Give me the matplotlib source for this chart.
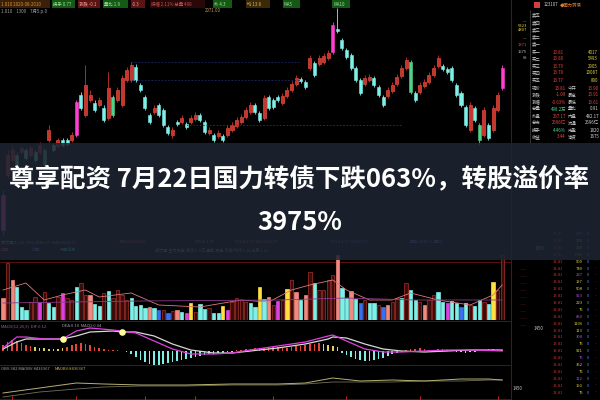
import matplotlib
matplotlib.use("Agg")
import matplotlib.pyplot as plt
from matplotlib.patches import Rectangle

plt.rcParams["font.family"] = ["Noto Sans CJK SC", "DejaVu Sans"]

# --- candle data (chart units) ---
opens = [-80, -25, -10, -5, -2, 0, -5, -2, -2, 0,
         10, 5, 4, 10, 10, 10, 15, 55, 35, 50,
         47, 45, 42, 32, 53, 50, 45, 70, 70, 83,
         65, 53, 35, 38, 45, 40, 23, 15, 28, 28,
         26, 28, 31, 35, 28, 17, 15, 14, 14, 15,
         20, 24, 28, 33, 38, 45, 37, 32, 53, 50,
         53, 47, 54, 60, 66, 71, 68, 82, 87, 86,
         88, 92, 98, 121, 110, 100, 95, 82, 70, 66,
         70, 72, 63, 53, 54, 59, 66, 74, 82, 88,
         57, 58, 64, 68, 75, 84, 84, 81, 82, 65,
         57, 43, 20, 42, 25, 15, 25, 20, 40, 62]
closes = [-45, -5, 0, -15, 2, -8, 2, -10, 5, -15,
          20, 0, 10, 5, 6, 15, 48, 42, 65, 55,
          40, 50, 30, 62, 35, 60, 72, 80, 85, 70,
          60, 42, 28, 42, 35, 25, 17, 20, 26, 32,
          23, 32, 35, 30, 18, 20, 10, 17, 10, 22,
          25, 30, 33, 40, 45, 38, 30, 52, 42, 43,
          50, 54, 60, 66, 72, 69, 63, 92, 75, 92,
          94, 97, 125, 119, 102, 93, 82, 70, 57, 72,
          73, 65, 55, 45, 60, 65, 73, 82, 90, 58,
          50, 65, 68, 75, 82, 92, 81, 78, 70, 55,
          45, 25, 45, 30, 10, 40, 12, 42, 55, 82]
highs = [-40, 0, 4, -2, 5, 2, 5, 0, 8, 2,
         25, 7, 12, 12, 12, 18, 50, 58, 85, 60,
         50, 53, 45, 78, 55, 63, 75, 83, 88, 86,
         67, 55, 37, 45, 47, 42, 25, 23, 30, 35,
         28, 35, 38, 37, 30, 23, 17, 20, 16, 25,
         28, 33, 36, 43, 48, 47, 39, 55, 55, 52,
         55, 57, 63, 69, 75, 73, 70, 95, 89, 95,
         97, 100, 128, 142, 112, 102, 97, 84, 72, 75,
         76, 74, 65, 55, 63, 68, 76, 85, 93, 90,
         59, 68, 71, 78, 85, 95, 86, 83, 84, 67,
         59, 45, 48, 44, 27, 43, 27, 45, 58, 85]
lows = [-85, -28, -12, -18, -4, -10, -7, -12, -4, -17,
        8, -2, 2, 3, 4, 8, 13, 40, 33, 48,
        38, 43, 28, 30, 33, 48, 43, 68, 68, 68,
        58, 40, 26, 36, 33, 23, 15, 12, 24, 26,
        21, 26, 29, 28, 16, 15, 8, 12, 8, 13,
        18, 22, 26, 31, 36, 36, 28, 30, 40, 41,
        48, 45, 52, 58, 64, 67, 61, 80, 73, 84,
        86, 90, 96, 117, 100, 91, 80, 68, 55, 64,
        68, 63, 53, 43, 52, 57, 64, 72, 80, 56,
        48, 56, 62, 66, 73, 82, 79, 76, 68, 53,
        43, 23, 18, 28, 5, 13, 10, 18, 38, 60]
# u = up (red), d = down (cyan), m = big up (magenta), g = big down (green)
kinds = ("muudududug" "ududdumduu" "duduguuuud" "dddudddudu" "duuddududu"
         "uuuuuddudd" "duuuuddudu" "uumddddddu" "uddduuuuug" "duuuuudddd" "ddudguduum")

# --- volume ---
volumes = [22, 57, 40, 33, 13, 10, 18, 23, 18, 28,
           17, 13, 23, 27, 22, 20, 33, 37, 25, 25,
           16, 14, 27, 29, 22, 30, 25, 20, 22, 14,
           15, 12, 13, 12, 10, 10, 7, 9, 10, 8,
           7, 17, 8, 16, 11, 12, 7, 7, 14, 10,
           18, 22, 20, 18, 17, 13, 33, 21, 23, 15,
           19, 20, 31, 40, 28, 20, 25, 48, 37, 30,
           30, 40, 45, 65, 32, 22, 29, 21, 17, 20,
           17, 17, 15, 13, 15, 18, 22, 22, 37, 30,
           20, 18, 15, 20, 25, 28, 18, 17, 19, 17,
           13, 17, 15, 14, 20, 18, 16, 38, 30, 65]
vol_kinds = ("srscccrrmr" "ccrmrrcrrs" "ccrcrrrrcc" "ccscbrbrsc" "myrccrccym"
             "rrrrccycsr" "mryrscsrcr" "rrrsccscbr" "ccrbsrrcrc" "crsrrccmcc" "bcrccrcyrr")
vol_ma_idx = [0, 5, 9, 13, 18, 21, 28, 34, 43, 52, 58, 63, 67, 72, 75, 80, 85, 89, 95, 102, 107, 109]
vol_ma = [30, 37, 20, 25, 30, 23, 27, 15, 13, 20, 18, 30, 35, 40, 30, 20, 20, 27, 20, 15, 25, 35]
vol_ma2_idx = [0, 30, 60, 75, 90, 109]
vol_ma2 = [17, 19, 20, 22, 20, 20]

# --- MACD ---
macd_idx = [0, 3, 5, 9, 13, 16, 19, 24, 26, 29, 33, 37, 41, 46, 50, 54, 60, 66, 71, 72, 75, 79, 83, 87, 92, 97, 102, 109]
dif = [3, 14, 14, 12, 12, 20, 23, 21, 20, 18, 10, 2, -3, -3, -2, 1, 5, 9, 15, 16, 10, 2, -1, -1, 0, 1, 1, 0]
dea = [2, 9, 12, 12, 12, 15, 19, 20, 19, 19, 15, 7, 1, -2, -2, 0, 3, 7, 12, 14, 13, 7, 2, 0, -1, 0, 1, 1]
cross_idx = [13, 26]
cross_val = [12, 19]
hist = [6, 9, 11, 10, 8, 6, 5,
        4, 3, 3, 2, 2, 2, 3,
        4, 6, 7, 8, 7, 6, 4, 3,
        2, 1, 1, 1, 0.5, -1, -3,
        -6, -9, -11, -13, -14, -14, -13, -12, -11, -10, -9, -8, -7, -6, -5,
        -4, -3, -3, -2, -2, -1, -1,
        1, 1, 2, 2, 3, 3, 3, 4, 4, 4, 3, 3, 4, 5,
        5, 6, 7, 7, 8, 7, 6, 5, 4,
        -2, -4, -6, -8, -9, -10, -10, -9, -8, -7, -5, -3, -2,
        -1, 1, 2, 2, 3, 2, 1, 1, 2, 2, 1, 1, -1, -1, -2, -1, -1, 1, 1, 2, 2, 1, 1]

# --- bottom indicator ---
obv_idx = [0, 8, 16, 22, 30, 40, 50, 60, 66, 72, 78, 85, 92, 100, 106, 109]
obv_a = [7, 12, 17, 16, 15, 15, 16, 16, 17, 22, 19, 20, 19, 21, 21, 20]
obv_b = [3, 8, 11, 13, 14, 14, 15, 15, 16, 18, 18, 18, 19, 19, 20, 20]
date_ticks = [2, 16, 31, 42, 59, 75, 91, 108]

# --- right panel text ---
book_labels = ["卖五", "卖四", "卖三", "卖二", "卖一", "买一", "买二", "买三", "买四", "买五"]
book_prices = ["", "", "", "", "", "13.81", "13.80", "13.79", "13.78", "13.77"]
book_vols = ["", "", "", "", "", "4017", "5493", "2905", "10087", "890"]
stat_labels_l = ["现价", "涨跌", "涨幅", "总量", "外盘", "总市", "换手", "收益"]
stat_vals_l = ["13.81", "-1.09", "-0.63%", "498.2万", "267.17", "2596亿", "4.46%", "3.44"]
stat_labels_r = ["今开", "最高", "最低", "量比", "内盘", "流通", "市盈", "净资"]
stat_vals_r = ["13.90", "13.91", "13.61", "0.91", "482.17", "2596亿", "1820", "1675"]
tick_vols = [375, 230, 158, 1050, 900, 740, 237, 197, 508, 923, 223, 75,
             850, 1106, 113, 308, 75, 921, 75, 352, 75, 112, 150, 75]

title_lines = ["尊享配资 7月22日国力转债下跌063%，转股溢价率", "3975%"]

RED = "#e4463b"
CYAN = "#7ff0e8"
MAG = "#ff3fcf"
GREEN = "#4fd38a"
kind_color = {"u": "#c9352c", "d": CYAN, "m": MAG, "g": GREEN}
vol_color = {"s": "#f08a80", "r": "#3a0c0c", "c": CYAN, "m": "#e040e0", "y": "#ffe040", "b": "#3a6ff0"}


def px_rect(x0, y0, x1, y1):
    return [x0 / 600, 1 - y1 / 400, (x1 - x0) / 600, (y1 - y0) / 400]


fig = plt.figure(figsize=(6, 4), dpi=100, facecolor="black")
x_lim = (-0.655, 110.7)
n = len(opens)
idx = list(range(n))

# background UI layer (right panel, headers, separators)
ui = fig.add_axes([0, 0, 1, 1], zorder=0)
ui.set_xlim(0, 600)
ui.set_ylim(400, 0)
ui.axis("off")

# header strip
hdr = [("1.010 2020-08-2010", "#e09030", "#3a2008", 0, 50), ("换手 0.77", "#9fe09f", "#145a14", 52, 75),
       ("涨跌 -0.1", "#ff9a9a", "#5a1414", 78, 100), ("量比 1.9", "#9fe09f", "#145a14", 103, 128),
       ("-0.3", "#ff9a9a", "#5a1414", 131, 145), ("振幅 2.11% 总量 498", "#c05050", "#2a0808", 150, 205),
       ("外 4.3", "#9fe09f", "#145a14", 213, 232), ("均 13.8", "#e0b060", "#3a2a08", 246, 270),
       ("MA5", "#9fe09f", "#145a14", 283, 300), ("MA10", "#9fe09f", "#145a14", 332, 350)]
for label, fg, bg, x0, x1 in hdr:
    ui.add_patch(Rectangle((x0, 0), x1 - x0, 8, facecolor=bg, edgecolor="none"))
    ui.text(x0 + 1, 4, label, color=fg, fontsize=3.2, va="center")
ui.text(1, 11, "1.010    1300    7月5.p.0", color="#a0a0a0", fontsize=3.2, va="center")
ui.text(205, 11, "2071.00", color="#c0a060", fontsize=3.2, va="center")

# separators
ui.axvline(511, color="#5a1010", lw=0.8)
ui.plot([530, 530], [10, 145], color="#3a3a3a", lw=0.6)
for y in (262, 321, 365, 399):
    ui.plot([0, 510], [y, y], color="#5a1010", lw=0.7)

# right panel top
ui.add_patch(Rectangle((534, 2), 6, 6, facecolor="#d04040"))
ui.text(544, 5, "123107", color="#d0d0d0", fontsize=3.2, va="center")
ui.text(560, 5, "◆国力转债", color="#e08030", fontsize=3.2, va="center")
for k, lab in enumerate(book_labels):
    y = 15 + 7.2 * k if k < 5 else 52 + 7 * (k - 5)
    ui.text(532, y, lab, color="#c8c8c8", fontsize=3.2, va="center")
    ui.text(553, y, book_prices[k], color=RED, fontsize=3.2, va="center")
    ui.text(598, y, book_vols[k], color="#e0d040", fontsize=3.2, va="center", ha="right")
for k in range(len(stat_labels_l)):
    y = 88 + 7 * k
    ui.text(532, y, stat_labels_l[k], color="#c8c8c8", fontsize=3.2, va="center")
    ui.text(566, y, stat_vals_l[k], color=GREEN if k in (3, 6) else RED, fontsize=3.2, va="center", ha="right")
    ui.text(568, y, stat_labels_r[k], color="#c8c8c8", fontsize=3.2, va="center")
    ui.text(599, y, stat_vals_r[k], color=RED if k < 3 else "#d0d0d0", fontsize=3.2, va="center", ha="right")
for y, lab, col in [(22, "—", "#c0c0c0"), (26, "5323", "#e0d040"), (30, "4807", "#e0d040"),
                    (39, "—", "#c0c0c0"), (45, "1371", RED), (52, "1575", "#c0c0c0"), (58, "69", "#c0c0c0")]:
    ui.text(527, y, lab, color=col, fontsize=3.0, va="center", ha="right")

# right panel ticks (lower)
for k, v in enumerate(tick_vols):
    y = 234 + 6.9 * k
    ui.text(553, y, "13.81", color="#c03030", fontsize=3.0, va="center")
    ui.text(583, y, str(v), color="#e0d040" if k % 3 else "#b050e0", fontsize=3.0, va="center", ha="right")
    ui.text(587, y, "0", color="#5090ff", fontsize=3.0, va="center")
    ui.text(595, y, "-", color="#707070", fontsize=3.0, va="center")
for k in range(9):
    ui.text(520, 270 + 7 * k, "——", color="#8a1a1a", fontsize=3.0, va="center")
for x, y in [(535, 249), (534, 329), (513, 388)]:
    ui.text(x, y, "1450", color="#c8c8c8", fontsize=3.2, va="center")

# indicator headers
ui.text(1, 242, "成交量(5,10)  VOL:4982.37  MA5:5962.57", color="#a0a0a0", fontsize=3.0, va="center")
ui.text(120, 242, "MA10:6103.27", color="#e05050", fontsize=3.0, va="center")
ui.text(195, 242, "VOL1:1.47", color="#50d050", fontsize=3.0, va="center")
ui.text(235, 242, "VOL2:1.17  VOL3:13.47", color="#e06080", fontsize=3.0, va="center")
ui.text(330, 242, "VOL4:1.17  VOL5:7.7", color="#a050e0", fontsize=3.0, va="center")
ui.text(410, 242, "量能:4500.7  量比", color="#8060d0", fontsize=3.0, va="center")
ui.text(1, 250, "放量", color="#e04040", fontsize=3.0, va="center")
ui.text(32, 250, "缩量", color="#a050e0", fontsize=3.0, va="center")
ui.text(60, 250, "平量走势", color="#40c0d0", fontsize=3.0, va="center")
ui.text(155, 250, "成交量 主力资金 净流入 5日 量能 资金 流向 均线 5.14 万手 1.23", color="#a0a0a0", fontsize=3.0, va="center")
ui.text(1, 326, "MACD(12,26,9)  DIF:0.12", color="#b050b0", fontsize=3.0, va="center")
ui.text(62, 326, "DEA:0.10  MACD:0.04", color="#a0a0a0", fontsize=3.0, va="center")
ui.text(1, 369, "OBV:382 MAOBV:8436367", color="#a0a0a0", fontsize=3.0, va="center")
ui.text(55, 369, "MAOBV:8436367", color="#c8b060", fontsize=3.0, va="center")

# candles
ax_k = fig.add_axes(px_rect(0, 0, 510, 262), zorder=1)
ax_k.set_xlim(*x_lim)
ax_k.set_ylim(-112, 150)
ax_k.axis("off")
for lvl, col, a, b in [(88, "#1a2870", 28, 65), (70, "#1a2870", 28, 65), (25, "#2030a0", 40, 87)]:
    ax_k.plot([a, b], [lvl, lvl], color=col, lw=0.6, ls=(0, (2, 2)))
cols = [kind_color[c] for c in kinds]
ax_k.vlines(idx, lows, highs, colors=cols, lw=0.6)
body_lo = [min(o, c) for o, c in zip(opens, closes)]
body_h = [max(abs(c - o), 1.0) for o, c in zip(opens, closes)]
ax_k.bar(idx, body_h, bottom=body_lo, width=0.66, color=cols,
         edgecolor=["#ff5a4a" if c == "u" else kind_color[c] for c in kinds], linewidth=0.4)

# volume
ax_v = fig.add_axes(px_rect(0, 250, 510, 320), zorder=1)
ax_v.set_xlim(*x_lim)
ax_v.set_ylim(0, 70)
ax_v.axis("off")
ax_v.bar(idx, volumes, width=0.72, color=[vol_color[c] for c in vol_kinds],
         edgecolor=["#a83028" if c == "r" else vol_color[c] for c in vol_kinds], linewidth=0.5)
ax_v.plot(vol_ma_idx, vol_ma, color="#e07878", lw=0.6)
ax_v.plot(vol_ma2_idx, vol_ma2, color="#8a3a8a", lw=0.6)

# MACD
ax_m = fig.add_axes(px_rect(0, 322, 510, 365), zorder=1)
ax_m.set_xlim(*x_lim)
ax_m.set_ylim(-14, 29)
ax_m.axis("off")
hcols = []
for i, h in enumerate(hist):
    if h < 0:
        hcols.append(CYAN)
    elif 7 <= i <= 13 or 70 <= i <= 73:
        hcols.append("#e0d060")
    else:
        hcols.append(RED)
ax_m.bar(idx, hist, width=0.35, color=hcols)
ax_m.plot(macd_idx, dea, color="#d8d8d8", lw=0.9)
ax_m.plot(macd_idx, dif, color="#e040e0", lw=0.9)
ax_m.scatter(cross_idx, cross_val, s=14, color="#ffffa0", zorder=5)

# bottom indicator
ax_b = fig.add_axes(px_rect(0, 365, 510, 400), zorder=1)
ax_b.set_xlim(*x_lim)
ax_b.set_ylim(0, 35)
ax_b.axis("off")
ax_b.plot(obv_idx, obv_b, color="#707060", lw=0.6)
ax_b.plot(obv_idx, obv_a, color="#b8b070", lw=0.7)
ax_b.vlines(date_ticks, 0, 4, color="#c02020", lw=0.8)

# title overlay band
ov = fig.add_axes([0, 0, 1, 1], zorder=10)
ov.set_xlim(0, 600)
ov.set_ylim(400, 0)
ov.axis("off")
ov.add_patch(Rectangle((0, 143), 600, 117, facecolor="#1e2532", alpha=0.88, edgecolor="none"))
ov.text(299, 179, title_lines[0], color="white", fontsize=18.4, fontweight="bold", ha="center", va="center")
ov.text(300, 222, title_lines[1], color="white", fontsize=18.4, fontweight="bold", ha="center", va="center")

fig.savefig("out.png", dpi=100, facecolor="black")
